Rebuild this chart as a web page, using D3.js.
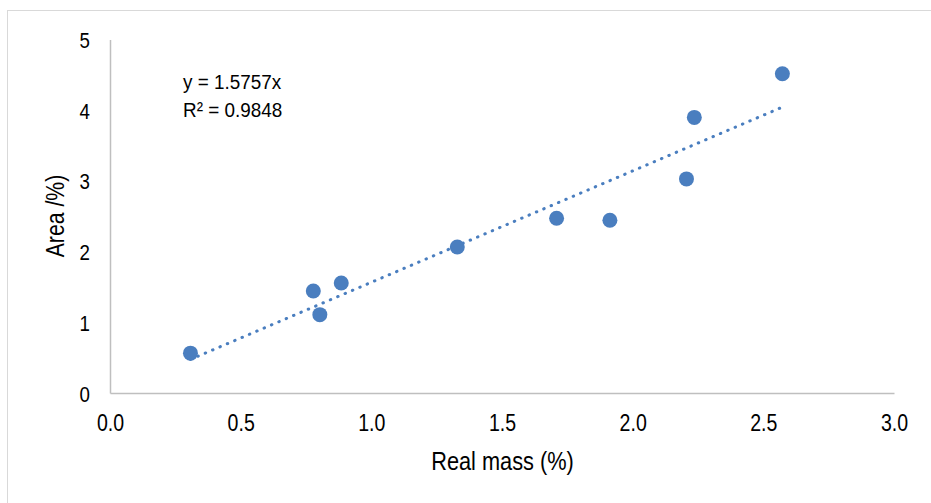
<!DOCTYPE html>
<html>
<head>
<meta charset="utf-8">
<script src="https://cdn.jsdelivr.net/npm/d3@7"></script>
<style>
    body { margin: 0; background: #fff; }
    text { font-family: "Liberation Sans", Arial, sans-serif; fill: #000; }
</style>
</head>
<body>
<div id="chart"></div>
<script>
const masaReal = [0.306, 0.776, 0.801, 0.883, 1.327, 1.707, 1.911, 2.204, 2.234, 2.571];
const area = [0.571, 1.449, 1.115, 1.562, 2.072, 2.479, 2.450, 3.035, 3.905, 4.523];
const xTicks = [0, 0.5, 1, 1.5, 2, 2.5, 3];
const yTicks = [0, 1, 2, 3, 4, 5];
const pendiente = 1.5757;
const ecuacion = ["y = 1.5757x", "R² = 0.9848"];

function graficar() {
    const width = 931, height = 503;
    const color = "#4a7ebf";
    const estrecho = 0.85; // letra condensada (tipo Arial Narrow)

    const svg = d3.select("#chart")
        .append("svg")
        .attr("width", width)
        .attr("height", height);

    // marco exterior
    svg.append("rect")
        .attr("x", 7.5)
        .attr("y", 10.5)
        .attr("width", 940)
        .attr("height", 520)
        .attr("fill", "none")
        .attr("stroke", "#d9d9d9");

    const xScale = d3.scaleLinear().domain([0, 3]).range([110.5, 894.5]);
    const yScale = d3.scaleLinear().domain([0, 5]).range([393.5, 40]);

    // ejes
    svg.append("line")
        .attr("x1", xScale(0)).attr("y1", yScale(0))
        .attr("x2", xScale(3)).attr("y2", yScale(0))
        .attr("stroke", "#bfbfbf")
        .attr("stroke-width", 1.5);

    svg.append("line")
        .attr("x1", xScale(0)).attr("y1", yScale(0))
        .attr("x2", xScale(0)).attr("y2", yScale(5))
        .attr("stroke", "#bfbfbf")
        .attr("stroke-width", 1.5);

    svg.selectAll(".xtick")
        .data(xTicks)
        .enter()
        .append("text")
        .attr("class", "xtick")
        .attr("transform", d => `translate(${xScale(d)},431) scale(${estrecho},1)`)
        .attr("text-anchor", "middle")
        .style("font-size", "23px")
        .text(d => d.toFixed(1));

    svg.selectAll(".ytick")
        .data(yTicks)
        .enter()
        .append("text")
        .attr("class", "ytick")
        .attr("transform", d => `translate(90,${yScale(d) + 8}) scale(${estrecho},1)`)
        .attr("text-anchor", "end")
        .style("font-size", "22px")
        .text(d => d);

    // titulos
    svg.append("text")
        .attr("transform", `translate(${(xScale(0) + xScale(3)) / 2},469.5) scale(0.87,1)`)
        .attr("text-anchor", "middle")
        .style("font-size", "25px")
        .text("Real mass (%)");

    svg.append("text")
        .attr("transform", `translate(64,216) rotate(-90) scale(${estrecho},1)`)
        .attr("text-anchor", "middle")
        .style("font-size", "25px")
        .text("Area /%)");

    // linea de tendencia
    const xMin = d3.min(masaReal), xMax = d3.max(masaReal);
    svg.append("line")
        .attr("x1", xScale(xMin)).attr("y1", yScale(pendiente * xMin))
        .attr("x2", xScale(xMax)).attr("y2", yScale(pendiente * xMax))
        .attr("stroke", color)
        .attr("stroke-width", 3)
        .attr("stroke-linecap", "round")
        .attr("stroke-dasharray", "0.5,7.5");

    // puntos
    svg.selectAll("circle")
        .data(masaReal)
        .enter()
        .append("circle")
        .attr("cx", d => xScale(d))
        .attr("cy", (d, i) => yScale(area[i]))
        .attr("r", 7.5)
        .attr("fill", color);

    svg.selectAll(".eq")
        .data(ecuacion)
        .enter()
        .append("text")
        .attr("class", "eq")
        .attr("transform", (d, i) => `translate(183,${88.5 + i * 28.3}) scale(0.9,1)`)
        .style("font-size", "21px")
        .text(d => d);
}

graficar();
</script>
</body>
</html>
